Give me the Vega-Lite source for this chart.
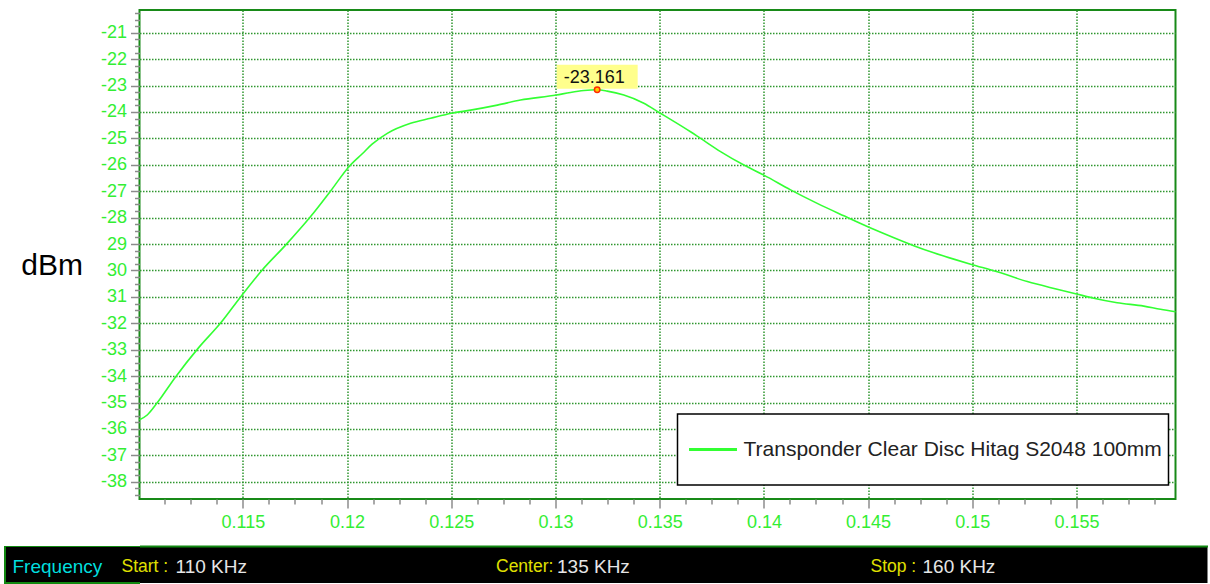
{
  "$schema": "https://vega.github.io/schema/vega-lite/v6.json",
  "background": "white",
  "padding": {"left": -16.5, "top": 2, "right": 0, "bottom": 0},
  "autosize": {"type": "pad"},
  "config": {"font": "Liberation Sans"},
  "datasets": {
    "curve": [
      {"f": 0.11004, "v": -35.65}, {"f": 0.11041, "v": -35.47}, {"f": 0.11089, "v": -35.01},
      {"f": 0.11177, "v": -34.03}, {"f": 0.11287, "v": -32.93}, {"f": 0.11393, "v": -31.99},
      {"f": 0.11489, "v": -31.0}, {"f": 0.11593, "v": -29.98}, {"f": 0.11705, "v": -29.04},
      {"f": 0.11825, "v": -27.96}, {"f": 0.11921, "v": -26.99}, {"f": 0.12009, "v": -26.07},
      {"f": 0.12073, "v": -25.58}, {"f": 0.1212, "v": -25.22}, {"f": 0.12193, "v": -24.81},
      {"f": 0.12305, "v": -24.43}, {"f": 0.12401, "v": -24.24}, {"f": 0.12501, "v": -24.05},
      {"f": 0.12593, "v": -23.93}, {"f": 0.12721, "v": -23.74}, {"f": 0.12832, "v": -23.55},
      {"f": 0.13004, "v": -23.36}, {"f": 0.13072, "v": -23.26}, {"f": 0.13136, "v": -23.19},
      {"f": 0.132, "v": -23.161}, {"f": 0.13248, "v": -23.21}, {"f": 0.13328, "v": -23.36},
      {"f": 0.13424, "v": -23.67}, {"f": 0.13501, "v": -24.04}, {"f": 0.13552, "v": -24.28},
      {"f": 0.13648, "v": -24.75}, {"f": 0.13696, "v": -25.0}, {"f": 0.13792, "v": -25.5},
      {"f": 0.13904, "v": -26.01}, {"f": 0.14, "v": -26.39}, {"f": 0.14128, "v": -26.95},
      {"f": 0.14256, "v": -27.46}, {"f": 0.14384, "v": -27.93}, {"f": 0.14504, "v": -28.36},
      {"f": 0.14575, "v": -28.6}, {"f": 0.14719, "v": -29.06}, {"f": 0.14815, "v": -29.33},
      {"f": 0.14911, "v": -29.57}, {"f": 0.14996, "v": -29.77}, {"f": 0.1512, "v": -30.05},
      {"f": 0.15264, "v": -30.42}, {"f": 0.15407, "v": -30.71}, {"f": 0.155, "v": -30.89},
      {"f": 0.15583, "v": -31.05}, {"f": 0.15695, "v": -31.22}, {"f": 0.15823, "v": -31.35},
      {"f": 0.15903, "v": -31.47}, {"f": 0.15975, "v": -31.56}
    ],
    "peak": [{"f": 0.132, "v": -23.161, "label": "-23.161"}],
    "status": [
      {"key": "Start :", "val": "110 KHz", "kHz": 110},
      {"key": "Center:", "val": "135 KHz", "kHz": 135},
      {"key": "Stop :", "val": "160 KHz", "kHz": 160}
    ]
  },
  "concat": [
    {
      "width": 1036,
      "height": 489,
      "view": {"stroke": "#188a18", "strokeWidth": 2},
      "encoding": {
        "x": {
          "field": "f", "type": "quantitative",
          "scale": {"domain": [0.11004, 0.15975], "nice": false, "zero": false},
          "axis": {
            "values": [0.11125,0.1125,0.11375,0.115,0.11625,0.1175,0.11875,0.12,0.12125,0.1225,0.12375,0.125,0.12625,0.1275,0.12875,0.13,0.13125,0.1325,0.13375,0.135,0.13625,0.1375,0.13875,0.14,0.14125,0.1425,0.14375,0.145,0.14625,0.1475,0.14875,0.15,0.15125,0.1525,0.15375,0.155,0.15625,0.1575,0.15875],
            "labelExpr": "abs(datum.value*200 - round(datum.value*200)) < 0.001 ? toString(round(datum.value*1000)/1000) : ''",
            "title": null,
            "domain": false,
            "grid": true,
            "gridColor": "#2f962f",
            "gridDash": [1.5, 1.5],
            "gridWidth": 1.5,
            "gridOpacity": {"condition": {"test": "abs(datum.value*200 - round(datum.value*200)) < 0.001", "value": 1}, "value": 0},
            "tickColor": "#8c8c8c",
            "tickWidth": 1.5,
            "tickSize": {"condition": {"test": "abs(datum.value*200 - round(datum.value*200)) < 0.001", "value": 9}, "value": 5},
            "labelColor": "#33ee33",
            "labelFont": "Liberation Sans",
            "labelFontSize": 18,
            "labelPadding": 5,
            "labelOverlap": false,
            "labelFlush": false,
            "labelBound": false
          }
        },
        "y": {
          "field": "v", "type": "quantitative",
          "scale": {"domain": [-38.65, -20.14], "nice": false, "zero": false},
          "axis": {
            "values": [-38.5,-38.25,-38,-37.75,-37.5,-37.25,-37,-36.75,-36.5,-36.25,-36,-35.75,-35.5,-35.25,-35,-34.75,-34.5,-34.25,-34,-33.75,-33.5,-33.25,-33,-32.75,-32.5,-32.25,-32,-31.75,-31.5,-31.25,-31,-30.75,-30.5,-30.25,-30,-29.75,-29.5,-29.25,-29,-28.75,-28.5,-28.25,-28,-27.75,-27.5,-27.25,-27,-26.75,-26.5,-26.25,-26,-25.75,-25.5,-25.25,-25,-24.75,-24.5,-24.25,-24,-23.75,-23.5,-23.25,-23,-22.75,-22.5,-22.25,-22,-21.75,-21.5,-21.25,-21,-20.75,-20.5,-20.25],
            "labelExpr": "datum.value % 1 === 0 ? ((datum.value <= -29 && datum.value >= -31) ? toString(-datum.value) : '-' + toString(-datum.value)) : ''",
            "title": "dBm",
            "titleAngle": 0,
            "titleAlign": "right",
            "titleBaseline": "middle",
            "titleX": -57,
            "titleY": 255,
            "titleFont": "Liberation Sans",
            "titleFontSize": 30,
            "titleFontWeight": "normal",
            "titleColor": "#000000",
            "domain": false,
            "grid": true,
            "gridColor": "#2f962f",
            "gridDash": [1.5, 1.5],
            "gridWidth": 1.5,
            "gridOpacity": {"condition": {"test": "datum.value % 1 === 0", "value": 1}, "value": 0},
            "tickColor": "#8c8c8c",
            "tickWidth": 1.5,
            "tickSize": {"condition": {"test": "datum.value % 1 === 0", "value": 9}, "value": 5},
            "labelColor": "#33ee33",
            "labelFont": "Liberation Sans",
            "labelFontSize": 18,
            "labelPadding": 4,
            "labelOverlap": false,
            "labelBound": false
          }
        }
      },
      "layer": [
        {
          "data": {"name": "curve"},
          "mark": {"type": "line", "strokeWidth": 1.6, "interpolate": "monotone"},
          "encoding": {
            "color": {
              "datum": "Transponder Clear Disc Hitag S2048 100mm",
              "type": "nominal",
              "scale": {"range": ["#33ff33"]},
              "legend": {
                "orient": "none",
                "legendX": 538,
                "legendY": 404,
                "title": null,
                "fillColor": "white",
                "strokeColor": "black",
                "padding": 6,
                "symbolType": "stroke",
                "symbolStrokeWidth": 3,
                "symbolSize": 2300,
                "symbolOffset": 4,
                "clipHeight": 59,
                "labelFont": "Liberation Sans",
                "labelFontSize": 21,
                "labelColor": "#222222",
                "labelLimit": 700,
                "labelOffset": 5,
                "encode": {"legend": {"update": {"strokeWidth": {"value": 1.5}}}}
              }
            }
          }
        },
        {
          "data": {"name": "peak"},
          "mark": {"type": "rect", "width": 81, "height": 24, "yOffset": -13, "color": "#ffff8c"}
        },
        {
          "data": {"name": "peak"},
          "mark": {"type": "text", "dy": -12, "dx": -3, "fontSize": 18, "font": "Liberation Sans", "color": "#111111", "baseline": "middle", "align": "center"},
          "encoding": {"text": {"field": "label"}}
        },
        {
          "data": {"name": "peak"},
          "mark": {"type": "point", "filled": true, "fill": "#ffcc00", "stroke": "#ff2a00", "strokeWidth": 1.5, "size": 30, "opacity": 1}
        }
      ]
    },
    {
      "width": 1068,
      "height": 37,
      "view": {"fill": "black", "stroke": null},
      "data": {"name": "status"},
      "encoding": {
        "x": {
          "field": "kHz", "type": "quantitative",
          "scale": {"domain": [111.2016, 182.497], "nice": false, "zero": false},
          "axis": {"orient": "top", "domainColor": "#118811", "domainWidth": 2, "ticks": false, "labels": false, "title": null, "grid": false}
        },
        "y": {
          "datum": 0, "type": "quantitative",
          "scale": {"domain": [-1, 1]},
          "axis": {
            "values": [0, 0.000001],
            "labels": false, "title": null, "domain": false, "grid": false,
            "tickColor": {"condition": {"test": "datum.value === 0", "value": "#118811"}, "value": "#000000"},
            "tickWidth": {"condition": {"test": "datum.value === 0", "value": 39}, "value": 35},
            "tickSize": {"condition": {"test": "datum.value === 0", "value": 136}, "value": 134}
          }
        }
      },
      "layer": [
        {
          "mark": {"type": "text", "align": "left", "baseline": "middle", "dy": 2, "font": "Liberation Sans", "fontSize": 17.5, "color": "#e0e000"},
          "encoding": {"text": {"field": "key"}}
        },
        {
          "transform": [{"filter": "datum.kHz === 110"}],
          "mark": {"type": "text", "align": "left", "baseline": "middle", "dy": 2, "dx": 54, "font": "Liberation Sans", "fontSize": 19, "color": "#e6e6e6"},
          "encoding": {"text": {"field": "val"}}
        },
        {
          "transform": [{"filter": "datum.kHz === 135"}],
          "mark": {"type": "text", "align": "left", "baseline": "middle", "dy": 2, "dx": 61, "font": "Liberation Sans", "fontSize": 19, "color": "#e6e6e6"},
          "encoding": {"text": {"field": "val"}}
        },
        {
          "transform": [{"filter": "datum.kHz === 160"}],
          "mark": {"type": "text", "align": "left", "baseline": "middle", "dy": 2, "dx": 52, "font": "Liberation Sans", "fontSize": 19, "color": "#e6e6e6"},
          "encoding": {"text": {"field": "val"}}
        },
        {
          "transform": [{"filter": "datum.kHz === 110"}],
          "mark": {"type": "text", "align": "left", "baseline": "middle", "dy": 2, "dx": -109, "font": "Liberation Sans", "fontSize": 19, "color": "#00dede", "text": "Frequency"}
        }
      ]
    }
  ],
  "columns": 1,
  "spacing": 13
}
